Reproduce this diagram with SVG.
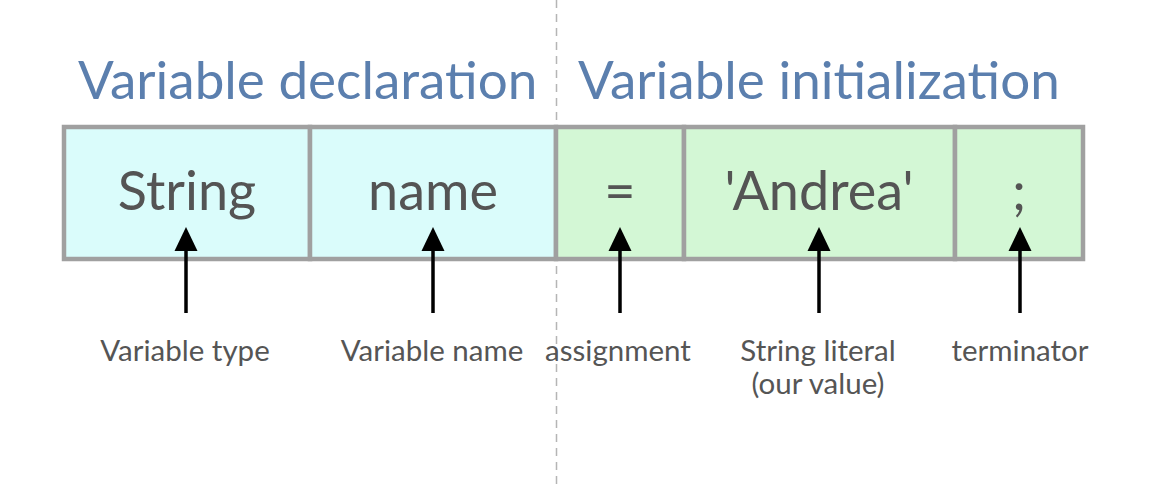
<svg xmlns="http://www.w3.org/2000/svg" width="1162" height="484" viewBox="0 0 1162 484">
  <defs>
    <style>
      .title { font-family: Lato, "Open Sans", sans-serif; font-size: 53px; fill: #5b7fae; }
      .code { font-family: Lato, "Open Sans", sans-serif; font-size: 54px; fill: #545454; text-anchor: middle; }
      .label { font-family: Lato, "Open Sans", sans-serif; font-size: 29.5px; fill: #555555; text-anchor: middle; }
      .cell { stroke: #a0a0a0; stroke-width: 4.5; }
      .decl { fill: #dafcfb; }
      .init { fill: #d3f7d5; }
      .arrow { stroke: #000; stroke-width: 3.5; fill: none; }
      .head { fill: #000; }
    </style>
  </defs>
  <rect width="1162" height="484" fill="#ffffff"/>
  <line x1="556.5" y1="0" x2="556.5" y2="484" stroke="#b5b5b5" stroke-width="1.5" stroke-dasharray="8,6"/>
  <text class="title" x="78" y="99">Variable declaration</text>
  <text class="title" x="578" y="99">Variable initialization</text>
  <g id="node-type">
    <rect class="cell decl" x="64" y="127" width="246" height="132"/>
    <text class="code" x="187" y="210">String</text>
  </g>
  <g id="node-name">
    <rect class="cell decl" x="310" y="127" width="246" height="132"/>
    <text class="code" x="433" y="210">name</text>
  </g>
  <g id="node-assign">
    <rect class="cell init" x="556" y="127" width="128" height="132"/>
    <text class="code" x="620" y="210">=</text>
  </g>
  <g id="node-literal">
    <rect class="cell init" x="684" y="127" width="271" height="132"/>
    <text class="code" x="819" y="210">'Andrea'</text>
  </g>
  <g id="node-term">
    <rect class="cell init" x="955" y="127" width="128" height="132"/>
    <text class="code" x="1019" y="210">;</text>
  </g>
  <g id="connectors">
    <line class="arrow" x1="186" y1="313" x2="186" y2="248"/>
    <path class="head" d="M186,227 L197.5,251 L174.5,251 Z"/>
    <line class="arrow" x1="433" y1="313" x2="433" y2="248"/>
    <path class="head" d="M433,227 L444.5,251 L421.5,251 Z"/>
    <line class="arrow" x1="620" y1="313" x2="620" y2="248"/>
    <path class="head" d="M620,227 L631.5,251 L608.5,251 Z"/>
    <line class="arrow" x1="819" y1="313" x2="819" y2="248"/>
    <path class="head" d="M819,227 L830.5,251 L807.5,251 Z"/>
    <line class="arrow" x1="1020" y1="313" x2="1020" y2="248"/>
    <path class="head" d="M1020,227 L1031.5,251 L1008.5,251 Z"/>
  </g>
  <g id="labels">
    <text class="label" x="185" y="360.5">Variable type</text>
    <text class="label" x="432" y="360.5">Variable name</text>
    <text class="label" x="618" y="360.5">assignment</text>
    <text class="label" x="818" y="360.5">String literal</text>
    <text class="label" x="818" y="394">(our value)</text>
    <text class="label" x="1020" y="360.5">terminator</text>
  </g>
</svg>
